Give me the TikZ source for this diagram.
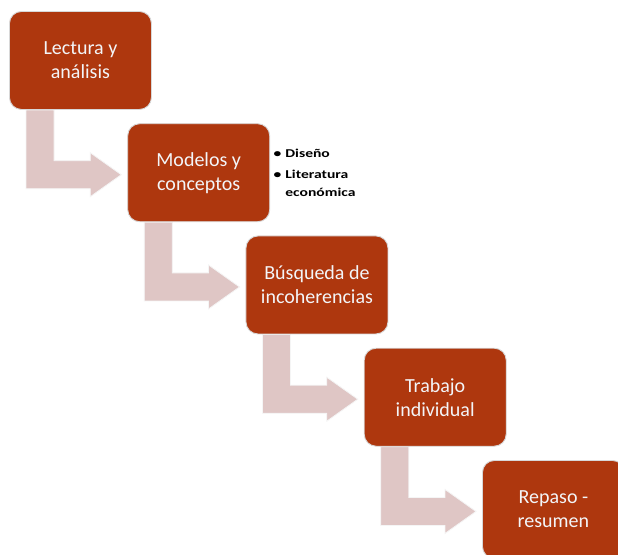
\documentclass[tikz,border=0pt]{standalone}
\usepackage{fontspec}
\usepackage{graphicx}
\setmainfont{Carlito}
\usetikzlibrary{calc,backgrounds}
\definecolor{boxc}{HTML}{AE370E}
\definecolor{boxline}{HTML}{D8D8D8}
\definecolor{arrc}{HTML}{DFC6C5}
\definecolor{txtc}{HTML}{F3F5F8}
\tikzset{
  stepbox/.style={draw=boxline, line width=0.9pt, fill=boxc, rounded corners=12pt,
    minimum width=142pt, minimum height=98pt, inner sep=0pt, anchor=north west,
    text=txtc, align=center, font=\fontsize{20}{24}\selectfont},
  bentarr/.style={fill=arrc, draw=white!92!gray, line width=0.8pt}
}
\newcommand\bentarrow[2]{%
  \path[bentarr] let \p1=(#1.south west), \p2=(#2.west) in
    (\x1+17pt,\y1) -- (\x1+45pt,\y1) -- (\x1+45pt,\y2+12pt) --
    (\x2-37pt,\y2+12pt) -- (\x2-37pt,\y2+20pt) -- (\x2-6pt,\y2-2pt) --
    (\x2-37pt,\y2-24pt) -- (\x2-37pt,\y2-16pt) -- (\x1+17pt,\y2-16pt) -- cycle;}
\begin{document}
\begin{tikzpicture}[x=1pt,y=-1pt]
\clip (0,0) rectangle (618,554);
\node[stepbox] (b1) at (9,11) {Lectura y\\análisis};
\node[stepbox] (b2) at (127.25,123.25) {Modelos y\\conceptos};
\node[stepbox] (b3) at (245.5,235.5) {Búsqueda de\\incoherencias};
\node[stepbox] (b4) at (363.75,347.75) {Trabajo\\individual};
\node[stepbox] (b5) at (482,460) {Repaso -\\resumen};
\begin{pgfonlayer}{background}
\fill[white] (0,0) rectangle (618,554);
\bentarrow{b1}{b2}
\bentarrow{b2}{b3}
\bentarrow{b3}{b4}
\bentarrow{b4}{b5}
\end{pgfonlayer}
\node (notes) [anchor=north west, inner sep=0pt,
  font=\bfseries\fontsize{12}{18}\selectfont]
  at (273.5,144.5) {\scalebox{1.3}[1]{%
  \begin{tabular}{@{}l@{\hspace{3pt}}l@{}}
  \textbullet & Diseño\\[3pt]
  \textbullet & Literatura\\
   & económica
  \end{tabular}}};
\end{tikzpicture}
\end{document}
